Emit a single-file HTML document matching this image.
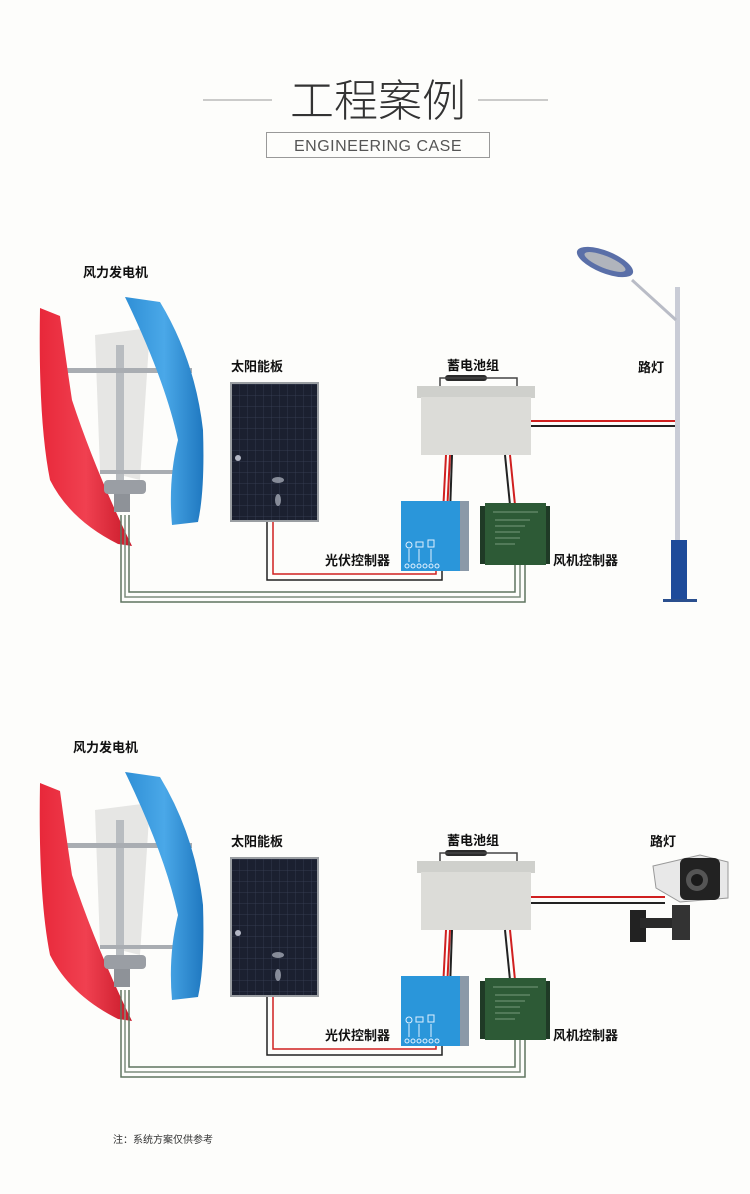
<!DOCTYPE html>
<html><head><meta charset="utf-8"><style>
html,body{margin:0;padding:0;background:#fdfdfb;}
body{width:750px;height:1194px;position:relative;overflow:hidden;font-family:"Liberation Sans","Noto Sans CJK SC",sans-serif;}
</style></head><body>
<svg width="750" height="1194" viewBox="0 0 750 1194" xmlns="http://www.w3.org/2000/svg" style="position:absolute;left:0;top:0">
<defs>
<linearGradient id="red" x1="0" x2="1"><stop offset="0" stop-color="#e8283a"/><stop offset="0.5" stop-color="#f04050"/><stop offset="1" stop-color="#c81a2a"/></linearGradient>
<linearGradient id="blue" x1="0" x2="1"><stop offset="0" stop-color="#2f8fd6"/><stop offset="0.5" stop-color="#4aa8e8"/><stop offset="1" stop-color="#1f78c0"/></linearGradient>
<pattern id="grid" width="8" height="11" patternUnits="userSpaceOnUse"><rect width="8" height="11" fill="#1b2030"/><path d="M8 0V11M0 11H8" stroke="#3a4258" stroke-width="0.7"/></pattern>
<g id="diag">
 <path d="M95 335 L150 328 L140 480 L100 470 Z" fill="#e6e6e4"/>
 <rect x="116" y="345" width="8" height="165" fill="#b8bcc0"/>
 <rect x="62" y="368" width="130" height="5" fill="#a9adb2"/>
 <rect x="100" y="470" width="95" height="4" fill="#a9adb2"/>
 <path d="M40 308 L60 316 Q66 360 72 400 Q95 470 132 546 L118 544 Q70 520 50 480 Q38 420 40 308 Z" fill="url(#red)"/>
 <path d="M125 297 L160 302 Q195 360 203 430 Q205 490 198 522 L172 525 Q168 480 178 440 Q165 380 125 297 Z" fill="url(#blue)"/>
 <rect x="104" y="480" width="42" height="14" rx="4" fill="#9a9ea4"/>
 <rect x="114" y="494" width="16" height="18" fill="#8e9298"/>
 <g fill="none" stroke-width="1.5">
  <path d="M121 515 V602 H525 V565" stroke="#5f7560"/>
  <path d="M125 515 V597 H520 V565" stroke="#7c8c7c"/>
  <path d="M129 515 V592 H515 V565" stroke="#5f7560"/>
 </g>
 <rect x="230" y="382" width="89" height="140" fill="#9a9ea2"/>
 <rect x="232" y="384" width="85" height="136" fill="url(#grid)"/>
 <circle cx="238" cy="458" r="3" fill="#d8dce8" opacity="0.8"/>
 <ellipse cx="278" cy="480" rx="6" ry="3" fill="#cfd3de" opacity="0.6"/>
 <ellipse cx="278" cy="500" rx="3" ry="6" fill="#cfd3de" opacity="0.6"/>
 <path d="M267 522 V580 H442 V565" fill="none" stroke="#222" stroke-width="1.5"/>
 <path d="M273 522 V574 H436 V565" fill="none" stroke="#d02020" stroke-width="1.5"/>
 <rect x="445" y="375" width="42" height="6" rx="3" fill="#2a2a2a"/>
 <path d="M440 387 V378 H517 V387" fill="none" stroke="#444" stroke-width="1.5"/>
 <rect x="417" y="386" width="118" height="12" fill="#cfd0cc"/>
 <rect x="421" y="397" width="110" height="58" fill="#dcdcd8"/>
 <path d="M446 455 L443 513 M450 455 L447 513" stroke="#d02020" stroke-width="2" fill="none"/>
 <path d="M452 455 L450 513" stroke="#222" stroke-width="2"/>
 <path d="M505 455 L510 505" stroke="#222" stroke-width="2"/>
 <path d="M510 455 L515 505" stroke="#d02020" stroke-width="2"/>
 <rect x="401" y="501" width="68" height="70" fill="#2a96da"/>
 <rect x="460" y="501" width="9" height="70" fill="#8b99a8"/>
 <g fill="none" stroke="#e0f0ff" stroke-width="1">
  <circle cx="409" cy="545" r="3"/><rect x="416" y="542" width="7" height="5"/><rect x="428" y="540" width="6" height="7"/>
  <path d="M409 549V562M419 549V562M431 549V562"/>
  <circle cx="407" cy="566" r="2"/><circle cx="413" cy="566" r="2"/><circle cx="419" cy="566" r="2"/><circle cx="425" cy="566" r="2"/><circle cx="431" cy="566" r="2"/><circle cx="437" cy="566" r="2"/>
 </g>
 <rect x="480" y="506" width="70" height="58" fill="#1f3a26"/>
 <rect x="485" y="503" width="61" height="62" fill="#2d5a36"/>
 <g stroke="#8fb094" stroke-width="0.7"><path d="M493 512H538M495 520H530M495 526H525M495 532H520M495 538H520M495 544H515"/></g>
 <text x="231" y="371" font-size="13" font-weight="bold" fill="#111">太阳能板</text>
 <text x="447" y="370" font-size="13" font-weight="bold" fill="#111">蓄电池组</text>
 <text x="325" y="565" font-size="13" font-weight="bold" fill="#111">光伏控制器</text>
 <text x="553" y="565" font-size="13" font-weight="bold" fill="#111">风机控制器</text>
</g>
</defs>
<line x1="203" y1="100" x2="272" y2="100" stroke="#999" stroke-width="1"/>
<line x1="478" y1="100" x2="548" y2="100" stroke="#999" stroke-width="1"/>
<text x="378" y="116" text-anchor="middle" font-size="44" fill="#333" font-family="'Noto Sans CJK SC',sans-serif" font-weight="300">工程案例</text>
<rect x="266.5" y="132.5" width="223" height="25" fill="none" stroke="#999"/>
<text x="378" y="151" text-anchor="middle" font-size="16" fill="#555" letter-spacing="0.5">ENGINEERING CASE</text>

<use href="#diag"/>
<text x="83" y="277" font-size="13" font-weight="bold" fill="#111">风力发电机</text>
<text x="638" y="372" font-size="13" font-weight="bold" fill="#111">路灯</text>
<path d="M531 421 H676" stroke="#d02020" stroke-width="2"/>
<path d="M531 426 H676" stroke="#222" stroke-width="2"/>
<rect x="675" y="287" width="5" height="260" fill="#c9ccd6"/>
<path d="M632 280 L676 320" stroke="#b9bcc6" stroke-width="3"/>
<ellipse cx="605" cy="262" rx="30" ry="11" transform="rotate(22 605 262)" fill="#5a6fa8"/>
<ellipse cx="605" cy="262" rx="22" ry="6" transform="rotate(22 605 262)" fill="#b0b4bc"/>
<rect x="671" y="540" width="16" height="60" fill="#1e4b9a"/>
<rect x="663" y="599" width="34" height="3" fill="#2a4f8e"/>

<use href="#diag" transform="translate(0 475)"/>
<text x="73" y="752" font-size="13" font-weight="bold" fill="#111">风力发电机</text>
<text x="650" y="846" font-size="13" font-weight="bold" fill="#111">路灯</text>
<path d="M531 897 H665" stroke="#d02020" stroke-width="2"/>
<path d="M531 903 H665" stroke="#222" stroke-width="2"/>
<rect x="630" y="910" width="16" height="32" fill="#222"/>
<rect x="640" y="918" width="45" height="10" fill="#2a2a2a"/>
<rect x="672" y="905" width="18" height="35" fill="#333"/>
<path d="M653 866 L700 855 L728 862 L728 898 L680 902 L656 888 Z" fill="#e8e8e8" stroke="#999"/>
<rect x="680" y="858" width="40" height="42" rx="6" fill="#222"/>
<circle cx="697" cy="880" r="11" fill="#555"/>
<circle cx="697" cy="880" r="6" fill="#1a1a1a"/>
<text x="113" y="1143" font-size="10" fill="#333">注：系统方案仅供参考</text>
</svg>
</body></html>
